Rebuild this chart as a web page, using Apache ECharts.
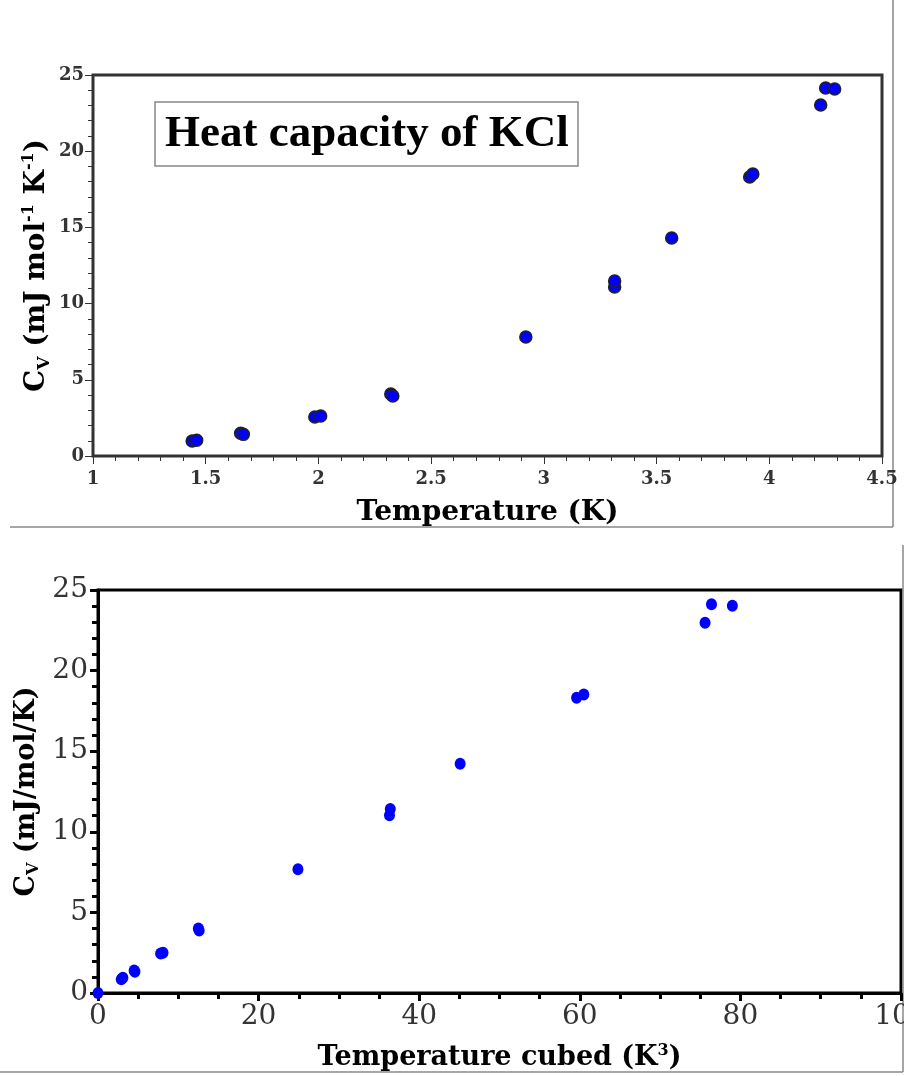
<!DOCTYPE html>
<html><head><meta charset="utf-8">
<script src="https://cdn.jsdelivr.net/npm/echarts@6/dist/echarts.min.js"></script>
<style>html,body{margin:0;padding:0;background:#fff}#c{width:904px;height:1076px}</style>
</head><body><div id="c"></div>
<script>
// Top panel: Cv vs T
const tempK = [1.44, 1.46, 1.655, 1.667, 1.984, 2.01, 2.321, 2.33, 2.92, 3.314, 3.314, 3.567, 3.913, 3.927, 4.228, 4.25, 4.29];
const cvTop = [0.98, 1.03, 1.49, 1.42, 2.56, 2.62, 4.07, 3.94, 7.81, 11.09, 11.48, 14.30, 18.31, 18.50, 23.03, 24.15, 24.08];
// Bottom panel: Cv vs T^3
const tempCubed = [0, 2.9, 3.1, 4.5, 4.6, 7.8, 8.1, 12.5, 12.6, 24.9, 36.3, 36.4, 45.1, 59.6, 60.5, 75.6, 76.4, 79.0];
const cvBottom = [0, 0.85, 0.95, 1.40, 1.32, 2.45, 2.50, 4.00, 3.88, 7.68, 11.02, 11.42, 14.22, 18.32, 18.52, 22.97, 24.11, 24.03];

const titleText = 'Heat capacity of KCl';

const chart = echarts.init(document.getElementById('c'), null, {renderer: 'canvas'});
const SERIF = '"DejaVu Serif", serif';
const TIMES = '"Liberation Serif", serif';

function pairs(xs, ys) { return xs.map((x, i) => [x, ys[i]]); }

chart.setOption({
  animation: false,
  backgroundColor: '#fff',
  title: {
    text: titleText,
    left: 155, top: 102,
    padding: [10, 10, 10, 10],
    borderColor: '#888', borderWidth: 1.5,
    textStyle: {fontFamily: TIMES, fontWeight: 'bold', fontSize: 45, color: '#000', lineHeight: 44}
  },
  grid: [
    {left: 93, top: 75, width: 789, height: 381, show: true, borderColor: '#333', borderWidth: 3, containLabel: false, outerBoundsMode: 'none'},
    {left: 98, top: 590, width: 803, height: 403, show: true, borderColor: '#000', borderWidth: 3, containLabel: false, outerBoundsMode: 'none'}
  ],
  xAxis: [
    {
      gridIndex: 0, type: 'value', min: 1, max: 4.5, interval: 0.5,
      axisLine: {show: true, lineStyle: {color: '#333', width: 2}},
      axisTick: {show: true, length: 8, lineStyle: {color: '#333', width: 1}},
      minorTick: {show: true, splitNumber: 5, length: 5, lineStyle: {color: '#333', width: 1}},
      splitLine: {show: false},
      axisLabel: {fontFamily: SERIF, fontWeight: 'bold', fontSize: 18, color: '#333', margin: 14},
      name: 'Temperature (K)', nameLocation: 'middle', nameGap: 43,
      nameTextStyle: {fontFamily: SERIF, fontWeight: 'bold', fontSize: 28, color: '#000'}
    },
    {
      gridIndex: 1, type: 'value', min: 0, max: 100, interval: 20,
      axisLine: {show: true, lineStyle: {color: '#000', width: 3}},
      axisTick: {show: true, length: 8, lineStyle: {color: '#000', width: 3}},
      minorTick: {show: true, splitNumber: 4, length: 6, lineStyle: {color: '#000', width: 3}},
      splitLine: {show: false},
      axisLabel: {fontFamily: SERIF, fontSize: 28, color: '#333', margin: 10},
      name: '{b|Temperature cubed (K}{sup|3}{b|)}', nameLocation: 'middle', nameGap: 50,
      nameTextStyle: {
        rich: {
          b: {fontFamily: SERIF, fontWeight: 'bold', fontSize: 27, color: '#000', lineHeight: 30},
          sup: {fontFamily: SERIF, fontWeight: 'bold', fontSize: 16, color: '#000', verticalAlign: 'top', lineHeight: 16}
        }
      }
    }
  ],
  yAxis: [
    {
      gridIndex: 0, type: 'value', min: 0, max: 25, interval: 5,
      axisLine: {show: true, lineStyle: {color: '#333', width: 2}},
      axisTick: {show: true, length: 8, lineStyle: {color: '#333', width: 1}},
      minorTick: {show: true, splitNumber: 5, length: 5, lineStyle: {color: '#333', width: 1}},
      splitLine: {show: false},
      axisLabel: {fontFamily: SERIF, fontWeight: 'bold', fontSize: 18, color: '#333', margin: 9},
      name: '{b|C}{sub|V}{b| (mJ mol}{sup|-1}{b| K}{sup|-1}{b|)}', nameLocation: 'middle', nameGap: 40, nameRotate: 90,
      nameMoveOverlap: false,
      nameTextStyle: {
        rich: {
          b: {fontFamily: SERIF, fontWeight: 'bold', fontSize: 28, color: '#000', lineHeight: 32},
          sub: {fontFamily: SERIF, fontWeight: 'bold', fontSize: 17, color: '#000', verticalAlign: 'bottom', lineHeight: 17},
          sup: {fontFamily: SERIF, fontWeight: 'bold', fontSize: 16, color: '#000', verticalAlign: 'top', lineHeight: 16}
        }
      }
    },
    {
      gridIndex: 1, type: 'value', min: 0, max: 25, interval: 5,
      axisLine: {show: true, lineStyle: {color: '#000', width: 3}},
      axisTick: {show: true, length: 8, lineStyle: {color: '#000', width: 3}},
      minorTick: {show: true, splitNumber: 5, length: 6, lineStyle: {color: '#000', width: 3}},
      splitLine: {show: false},
      axisLabel: {fontFamily: SERIF, fontSize: 28, color: '#333', margin: 10},
      name: '{b|C}{sub|V}{b| (mJ/mol/K)}', nameLocation: 'middle', nameGap: 56, nameRotate: 90,
      nameMoveOverlap: false,
      nameTextStyle: {
        rich: {
          b: {fontFamily: SERIF, fontWeight: 'bold', fontSize: 27, color: '#000', lineHeight: 30},
          sub: {fontFamily: SERIF, fontWeight: 'bold', fontSize: 16, color: '#000', verticalAlign: 'bottom', lineHeight: 16}
        }
      }
    }
  ],
  series: [
    {
      type: 'scatter', xAxisIndex: 0, yAxisIndex: 0,
      data: pairs(tempK, cvTop),
      symbol: 'circle', symbolSize: 12,
      itemStyle: {color: '#0000ff', borderColor: '#222', borderWidth: 1.5, opacity: 1}
    },
    {
      type: 'scatter', xAxisIndex: 1, yAxisIndex: 1,
      data: pairs(tempCubed, cvBottom),
      symbol: 'circle', symbolSize: [11, 12],
      itemStyle: {color: '#0000ff', borderWidth: 0, opacity: 1}
    }
  ],
  graphic: [
    {type: 'line', shape: {x1: 893, y1: 0, x2: 893, y2: 527}, style: {stroke: '#888', lineWidth: 1.5}},
    {type: 'line', shape: {x1: 10, y1: 527, x2: 893, y2: 527}, style: {stroke: '#888', lineWidth: 1.5}},
    {type: 'line', shape: {x1: 903, y1: 545, x2: 903, y2: 1072}, style: {stroke: '#888', lineWidth: 1.5}},
    {type: 'line', shape: {x1: 0, y1: 1072, x2: 903, y2: 1072}, style: {stroke: '#888', lineWidth: 1.5}}
  ]
});
</script></body></html>
